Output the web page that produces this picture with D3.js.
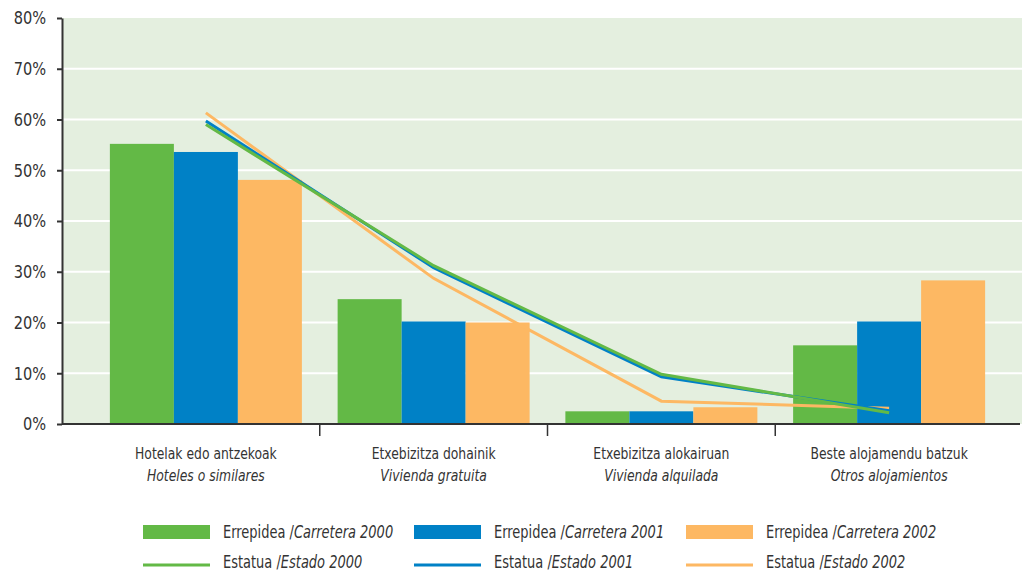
<!DOCTYPE html>
<html><head><meta charset="utf-8">
<script src="https://cdn.jsdelivr.net/npm/d3@7"></script>
<style>
body{margin:0;background:#fff;}
text{font-family:"Liberation Sans Narrow","DejaVu Sans Condensed","Arial Narrow",sans-serif;fill:#333;}
</style></head>
<body><svg id="c" width="1025" height="574"></svg>
<script>
const categoriesEu = ["Hotelak edo antzekoak","Etxebizitza dohainik","Etxebizitza alokairuan","Beste alojamendu batzuk"];
const categoriesEs = ["Hoteles o similares","Vivienda gratuita","Vivienda alquilada","Otros alojamientos"];
const years = ["2000","2001","2002"];
const carretera2000 = [55.2, 24.6, 2.5, 15.5];
const carretera2001 = [53.6, 20.2, 2.5, 20.2];
const carretera2002 = [48.1, 20.0, 3.3, 28.3];
const estado2000 = [59.0, 31.2, 9.8, 2.2];
const estado2001 = [59.7, 30.8, 9.3, 2.6];
const estado2002 = [61.3, 28.7, 4.5, 3.1];
const yTicks = [0,10,20,30,40,50,60,70,80];
const colors = ["#63b946","#0081c6","#fdb863"];

const barSeries = [carretera2000, carretera2001, carretera2002];
const lineSeries = [estado2000, estado2001, estado2002];

const svg = d3.select("#c");
const plot = {l:62, r:1022, t:18, b:424};
const y = d3.scaleLinear().domain([0,80]).range([plot.b, plot.t]);
const x = d3.scaleBand().domain(d3.range(4)).range([92, 1003]).paddingInner(0).paddingOuter(0);
const groupW = 192;
const xs = d3.scaleBand().domain(d3.range(3)).range([0, groupW]);

svg.append("rect").attr("x",plot.l).attr("y",plot.t).attr("width",plot.r-plot.l).attr("height",plot.b-plot.t).attr("fill","#e4efdf");
svg.append("g").selectAll("line").data(yTicks.slice(1,-1)).join("line")
  .attr("x1",plot.l).attr("x2",plot.r).attr("y1",d=>y(d)).attr("y2",d=>y(d))
  .attr("stroke","#fff").attr("stroke-width",2);

// bars
barSeries.forEach((s,si)=>{
  svg.append("g").selectAll("rect").data(s).join("rect")
    .attr("x",(d,i)=>x(i)+(x.bandwidth()-groupW)/2+xs(si))
    .attr("width",xs.bandwidth())
    .attr("y",d=>y(d)).attr("height",d=>plot.b-y(d))
    .attr("fill",colors[si]);
});

// lines
const line = d3.line().x((d,i)=>x(i)+x.bandwidth()/2).y(d=>y(d));
[2,1,0].forEach(si=>{
  svg.append("path").datum(lineSeries[si]).attr("d",line)
    .attr("fill","none").attr("stroke",colors[si]).attr("stroke-width",3);
});

// y axis
const yAxis = svg.append("g").attr("transform",`translate(${plot.l},0)`)
  .call(d3.axisLeft(y).tickValues(yTicks).tickFormat(d=>d+"%").tickSize(5).tickSizeOuter(0));
yAxis.select(".domain").attr("stroke","#333").attr("stroke-width",2);
yAxis.selectAll(".tick line").attr("stroke","#333").attr("stroke-width",2);
yAxis.selectAll(".tick text").attr("x",0).attr("font-size",18).attr("fill","#333").style("font-family",null)
  .attr("transform","translate(-16,0) scale(0.9,1)");

// x axis
svg.append("line").attr("x1",plot.l).attr("x2",plot.r-2).attr("y1",plot.b).attr("y2",plot.b).attr("stroke","#333").attr("stroke-width",2);
svg.append("g").selectAll("line").data([1,2,3]).join("line")
  .attr("x1",d=>x(d)).attr("x2",d=>x(d)).attr("y1",plot.b).attr("y2",plot.b+12)
  .attr("stroke","#333").attr("stroke-width",1.5);
const lab = svg.append("g").selectAll("g").data(d3.range(4)).join("g")
  .attr("transform",i=>`translate(${x(i)+x.bandwidth()/2},0) scale(0.86,1)`);
lab.append("text").attr("y",459).attr("text-anchor","middle").attr("font-size",16).text(i=>categoriesEu[i]);
lab.append("text").attr("y",481).attr("text-anchor","middle").attr("font-size",16).attr("font-style","italic").text(i=>categoriesEs[i]);

// legend
const legX = [143, 414, 686];
years.forEach((yr,i)=>{
  const g = svg.append("g");
  g.append("rect").attr("x",legX[i]).attr("y",525).attr("width",67).attr("height",14).attr("fill",colors[i]);
  g.append("line").attr("x1",legX[i]).attr("x2",legX[i]+67).attr("y1",565).attr("y2",565).attr("stroke",colors[i]).attr("stroke-width",3);
  const t1 = g.append("text").attr("transform",`translate(${legX[i]+80},538) scale(0.85,1)`).attr("font-size",17);
  t1.append("tspan").text("Errepidea /");
  t1.append("tspan").attr("font-style","italic").text("Carretera "+yr);
  const t2 = g.append("text").attr("transform",`translate(${legX[i]+80},568) scale(0.85,1)`).attr("font-size",17);
  t2.append("tspan").text("Estatua /");
  t2.append("tspan").attr("font-style","italic").text("Estado "+yr);
});
</script></body></html>
